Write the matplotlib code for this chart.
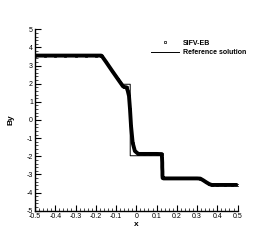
import matplotlib
matplotlib.use('Agg')
import matplotlib.pyplot as plt
from matplotlib.ticker import AutoMinorLocator, MultipleLocator

# numerical solution (SIFV-EB)
num_x = [-0.5, -0.45, -0.4, -0.35, -0.3, -0.25, -0.2, -0.175, -0.171,
         -0.15, -0.12, -0.09, -0.066, -0.060, -0.048, -0.042, -0.036,
         -0.031, -0.026, -0.018, -0.007, 0.010, 0.04, 0.07, 0.10, 0.126,
         0.127, 0.128, 0.128, 0.129, 0.129, 0.130, 0.135, 0.18, 0.22,
         0.26, 0.30, 0.316, 0.33, 0.345, 0.36, 0.372, 0.40, 0.44, 0.47, 0.5]
num_y = [3.55, 3.55, 3.55, 3.55, 3.55, 3.55, 3.55, 3.55, 3.54,
         3.21, 2.72, 2.24, 1.86, 1.82, 1.80, 1.60, 1.32,
         0.59, -0.33, -1.25, -1.71, -1.87, -1.87, -1.87, -1.87, -1.88,
         -2.10, -2.35, -2.60, -2.85, -3.05, -3.20, -3.22, -3.22, -3.22,
         -3.22, -3.22, -3.23, -3.32, -3.43, -3.53, -3.58, -3.58, -3.58, -3.58, -3.58]

# reference solution
ref_x = [-0.5, -0.171, -0.066, -0.030, -0.030, 0.128, 0.128, 0.318, 0.372, 0.5]
ref_y = [3.55, 3.55, 1.97, 1.97, -1.97, -1.97, -3.22, -3.22, -3.58, -3.58]

plt.rcParams['font.family'] = ['Liberation Sans', 'DejaVu Sans']
plt.rcParams['axes.unicode_minus'] = False

fig = plt.figure(figsize=(2.7, 2.4), dpi=100)
ax = fig.add_axes([0.1296, 0.122, 0.7504, 0.756])

# dense markers of the numerical run look like a thick line
ax.plot(num_x, num_y, color='black', lw=2.8, solid_capstyle='butt', zorder=2)
ax.plot(num_x, num_y, ls='none', marker='s', ms=1.4, mfc='none', mec='black',
        mew=0.5, label='SIFV-EB', zorder=3)
ax.plot(ref_x, ref_y, color='black', lw=0.7, label='Reference solution', zorder=4)

ax.set_xlim(-0.5, 0.5)
ax.set_ylim(-5, 5)
ax.xaxis.set_major_locator(MultipleLocator(0.1))
ax.yaxis.set_major_locator(MultipleLocator(1))
ax.xaxis.set_minor_locator(AutoMinorLocator(5))
ax.yaxis.set_minor_locator(AutoMinorLocator(5))
ax.xaxis.set_major_formatter(plt.FuncFormatter(lambda v, p: f'{v:g}' if abs(v) > 1e-9 else '0'))

for side in ['top', 'right']:
    ax.spines[side].set_visible(False)
for side in ['left', 'bottom']:
    ax.spines[side].set_linewidth(1.0)

ax.tick_params(which='major', direction='in', length=4, width=0.8, labelsize=5, pad=1.5)
ax.tick_params(which='minor', direction='in', length=2, width=0.5)

ax.set_xlabel('x', fontsize=6, fontweight='bold', labelpad=1)
ax.set_ylabel('By', fontsize=6, fontweight='bold', labelpad=9)

ax.legend(loc='upper left', bbox_to_anchor=(0.56, 0.957), frameon=False,
          prop={'size': 5, 'weight': 'bold'}, handlelength=4.0,
          handletextpad=0.6, labelspacing=0.3, borderaxespad=0, markerscale=1.2)

fig.savefig('out.png', dpi=100)
